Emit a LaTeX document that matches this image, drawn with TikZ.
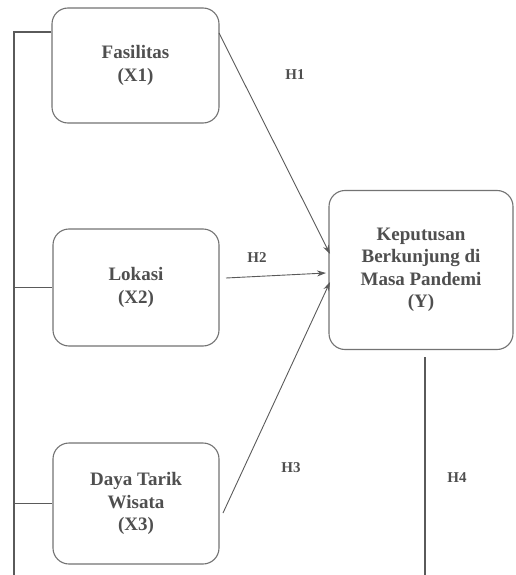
\documentclass[tikz,border=0pt]{standalone}
\usepackage{fontspec}
\setmainfont{Liberation Serif}
\usetikzlibrary{arrows.meta,calc}
\definecolor{txt}{HTML}{4F4F4F}
\definecolor{ln}{HTML}{5A5A5A}
\tikzset{
  varbox/.style={draw=ln!85, line width=1.1pt, rounded corners=16pt, fill=white,
    minimum width=#1, align=center, font=\fontsize{19}{22.5}\selectfont\bfseries, text=txt, inner sep=0pt},
  link/.style={draw=ln, line width=1.6pt},
  arr/.style={draw=ln, line width=0.9pt, -{Stealth[length=9pt,width=6pt]}},
  hlab/.style={font=\fontsize{15}{17}\selectfont\bfseries, text=txt},
}
\begin{document}
\begin{tikzpicture}[x=1pt,y=-1pt]
\useasboundingbox (0,0) rectangle (515,575);
\node[varbox=167pt, minimum height=115pt] (x1) at (135.5,65.5) {Fasilitas\\(X1)};
\node[varbox=166pt, minimum height=117pt] (x2) at (136,287.5) {Lokasi\\(X2)};
\node[varbox=166pt, minimum height=121pt] (x3) at (136,503.5) {Daya Tarik\\Wisata\\(X3)};
\node[varbox=184pt, minimum height=159pt] (y) at (421,270) {Keputusan\\Berkunjung di\\Masa Pandemi\\(Y)};
% bus on the left
\coordinate (bt) at (14,32);
\coordinate (bb) at (14,575);
\draw[link] (x1.west |- bt) -- (bt) -- (bb);
\draw[link] (bb |- x2.west) -- (x2.west);
\draw[link] (bb |- x3.west) -- (x3.west);
% H4 line
\coordinate (h4b) at (425,575);
\draw[link] (h4b |- 0,357) -- (h4b);
% arrows
\coordinate (s1) at (219,33);
\coordinate (e1) at (330,254);
\coordinate (s2) at (226,278);
\coordinate (e2) at (326,273);
\coordinate (s3) at (223,513);
\coordinate (e3) at (330,282);
\draw[arr] (s1) -- (e1);
\draw[arr] (s2) -- (e2);
\draw[arr] (s3) -- (e3);
% labels
\node[hlab] (h1) at (295,75) {H1};
\node[hlab] (h2) at (257,258) {H2};
\node[hlab] (h3) at (291,468) {H3};
\node[hlab] (h4) at (457,478) {H4};
\end{tikzpicture}
\end{document}
